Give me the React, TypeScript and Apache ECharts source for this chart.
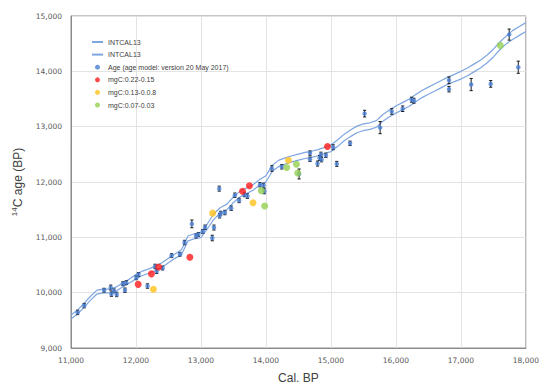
import React, { useEffect, useRef } from "react";
import * as echarts from "echarts";

// INTCAL13 calibration curve (upper and lower bounds)
const intcalCal = [
  11000, 11100, 11200, 11300, 11400, 11500, 11600, 11700, 11800, 11900,
  12000, 12100, 12200, 12300, 12400, 12500, 12600, 12700, 12800, 12900,
  13000, 13100, 13200, 13300, 13400, 13500, 13600, 13700, 13800, 13900,
  14000, 14100, 14200, 14300, 14400, 14500, 14600, 14700, 14800, 14900,
  15000, 15100, 15200, 15300, 15400, 15500, 15600, 15700, 15800, 15900,
  16000, 16100, 16200, 16300, 16400, 16500, 16600, 16700, 16800, 16900,
  17000, 17100, 17200, 17300, 17400, 17500, 17600, 17700, 17800, 17900, 18000,
];
const intcalUpper = [
  9595, 9685, 9805, 9935, 10045, 10065, 10065, 10105, 10175, 10245,
  10330, 10390, 10430, 10480, 10540, 10620, 10700, 10775, 11025, 11065,
  11085, 11245, 11430, 11540, 11600, 11730, 11830, 11890, 11950, 12040,
  12115, 12305, 12395, 12435, 12475, 12505, 12535, 12555, 12585, 12625,
  12670, 12760, 12860, 12940, 13010, 13050, 13070, 13110, 13220, 13300,
  13375, 13435, 13495, 13575, 13655, 13715, 13775, 13835, 13895, 13945,
  14000, 14060, 14130, 14200, 14290, 14400, 14530, 14640, 14740, 14810, 14880,
];
const intcalLower = [
  9525, 9615, 9735, 9865, 9975, 9995, 9995, 10035, 10105, 10175,
  10250, 10310, 10350, 10400, 10460, 10540, 10620, 10685, 10935, 10975,
  10995, 11155, 11330, 11440, 11500, 11630, 11730, 11790, 11850, 11940,
  12005, 12195, 12285, 12325, 12365, 12395, 12425, 12445, 12475, 12515,
  12550, 12640, 12740, 12820, 12890, 12930, 12950, 12990, 13100, 13180,
  13245, 13305, 13365, 13445, 13525, 13585, 13645, 13705, 13765, 13815,
  13860, 13920, 13990, 14060, 14150, 14260, 14390, 14500, 14580, 14650, 14720,
];

// Age model points (Cal BP, 14C age, error)
const ageCal = [
  11102, 11203, 11509, 11611, 11622, 11662, 11703, 11799, 11830, 11851,
  12004, 12039, 12177, 12294, 12319, 12410, 12548, 12676, 12747, 12860,
  12925, 12960, 13028, 13063, 13174, 13200, 13287, 13303, 13368, 13465,
  13281, 13521, 13587, 13669, 13715, 13908, 13964, 13975, 14091, 14244,
  14510, 14678, 14678, 14794, 14825, 14846, 14855, 14922, 15034, 15090,
  15294, 15518, 15757, 15936, 16104, 16241, 16277, 16817, 16817, 17158,
  17459, 17743, 17883,
];
const ageC14 = [
  9643, 9766, 10044, 10092, 9974, 10032, 9968, 10163, 10044, 10181,
  10269, 10328, 10120, 10474, 10386, 10446, 10669, 10694, 10906, 11243,
  11023, 11053, 11106, 11182, 10988, 11177, 11390, 11437, 11448, 11526,
  11880, 11761, 11667, 11774, 11744, 11951, 11938, 11832, 12244, 12275,
  12145, 12522, 12411, 12333, 12434, 12499, 12404, 12482, 12628, 12328,
  12699, 13236, 12983, 13275, 13324, 13487, 13469, 13838, 13678, 13761,
  13773, 14664, 14074,
];
const ageErr = [
  40, 40, 35, 45, 40, 35, 40, 35, 40, 35,
  35, 35, 40, 40, 40, 35, 35, 35, 40, 70,
  35, 35, 35, 40, 50, 45, 40, 35, 40, 40,
  45, 40, 40, 40, 40, 40, 40, 45, 50, 40,
  90, 40, 40, 45, 45, 40, 40, 40, 45, 45,
  40, 60, 110, 50, 50, 45, 45, 60, 50, 110,
  60, 100, 110,
];

const redCal = [12034, 12238, 12349, 12829, 13639, 13746, 14947];
const redC14 = [10150, 10340, 10464, 10641, 11832, 11933, 12641];
const yellowCal = [12268, 13180, 13801, 14346];
const yellowC14 = [10062, 11437, 11625, 12393];
const greenCal = [13929, 13980, 14320, 14469, 14489, 17606];
const greenC14 = [11844, 11567, 12262, 12322, 12163, 14469];

const zip = (a: number[], b: number[]) => a.map((v, i) => [v, b[i]]);

export default function App() {
  const ref = useRef<HTMLDivElement>(null);
  useEffect(() => {
    if (!ref.current) return;
    const chart = echarts.init(ref.current, null, { renderer: "svg" });
    const lineColor = "#7ea6e0";
    const axisFont = "DejaVu Sans";
    chart.setOption({
      animation: false,
      backgroundColor: "#ffffff",
      grid: {
        left: 71,
        right: 13,
        top: 16,
        bottom: 34,
        show: true,
        borderColor: "#8c8c8c",
        borderWidth: 1,
      },
      legend: {
        orient: "vertical",
        left: 91,
        top: 38.5,
        padding: 0,
        itemGap: 5.6,
        itemWidth: 11,
        itemHeight: 5,
        textStyle: { fontFamily: "Liberation Sans", fontSize: 7, color: "#404040" },
        formatter: (n: string) => n.trim(),
        data: [
          { name: "INTCAL13", itemStyle: { opacity: 0 } },
          { name: "INTCAL13 ", itemStyle: { opacity: 0 } },
          { name: "Age (age model: version 20 May 2017)", icon: "circle" },
          { name: "mgC:0.22-0.15", icon: "circle" },
          { name: "mgC:0.13-0.0.8", icon: "circle" },
          { name: "mgC:0.07-0.03", icon: "circle" },
        ],
      },
      xAxis: {
        type: "value",
        min: 11000,
        max: 18000,
        interval: 1000,
        name: "Cal. BP",
        nameLocation: "middle",
        nameGap: 24,
        nameTextStyle: { fontFamily: "Liberation Sans", fontSize: 12, color: "#404040" },
        axisLine: { show: true, lineStyle: { color: "#8c8c8c" } },
        axisTick: { show: false },
        axisLabel: {
          fontFamily: axisFont,
          fontSize: 7.5,
          color: "#595959",
          margin: 8,
          formatter: (v: number) => v.toLocaleString("en-US"),
        },
        splitLine: { show: true, lineStyle: { color: "#e3e3e3" } },
      },
      yAxis: {
        type: "value",
        min: 9000,
        max: 15000,
        interval: 1000,
        name: "{sup|14}{main|C age (BP)}",
        nameLocation: "middle",
        nameGap: 45,
        nameRotate: 90,
        nameTextStyle: {
          fontFamily: "Liberation Sans",
          color: "#404040",
          rich: {
            sup: { fontSize: 8, fontFamily: "Liberation Sans", color: "#404040", verticalAlign: "top", lineHeight: 14, padding: [0, 0, 6, 0] },
            main: { fontSize: 12, fontFamily: "Liberation Sans", color: "#404040", lineHeight: 14 },
          },
        },
        axisLine: { show: true, lineStyle: { color: "#8c8c8c" } },
        axisTick: { show: false },
        axisLabel: {
          fontFamily: axisFont,
          fontSize: 7.5,
          color: "#595959",
          margin: 9,
          formatter: (v: number) => v.toLocaleString("en-US"),
        },
        splitLine: { show: true, lineStyle: { color: "#e3e3e3" } },
      },
      series: [
        {
          name: "INTCAL13",
          type: "line",
          data: zip(intcalCal, intcalUpper),
          showSymbol: false,
          symbol: "none",
          lineStyle: { color: lineColor, width: 1.2 },
          itemStyle: { color: lineColor },
          z: 1,
        },
        {
          name: "INTCAL13 ",
          type: "line",
          data: zip(intcalCal, intcalLower),
          showSymbol: false,
          symbol: "none",
          lineStyle: { color: lineColor, width: 1.2 },
          itemStyle: { color: lineColor },
          z: 1,
        },
        {
          name: "errbars",
          type: "custom",
          data: ageCal.map((c, i) => [c, ageC14[i], ageErr[i]]),
          encode: { x: 0, y: 1 },
          z: 3,
          renderItem: (params: any, api: any) => {
            const x = api.value(0);
            const y = api.value(1);
            const e = api.value(2);
            const t = api.coord([x, y + e]);
            const b = api.coord([x, y - e]);
            const w = 1.6;
            const st = { stroke: "#1a1a1a", lineWidth: 1 };
            return {
              type: "group",
              children: [
                { type: "line", shape: { x1: t[0], y1: t[1], x2: b[0], y2: b[1] }, style: st },
                { type: "line", shape: { x1: t[0] - w, y1: t[1], x2: t[0] + w, y2: t[1] }, style: st },
                { type: "line", shape: { x1: b[0] - w, y1: b[1], x2: b[0] + w, y2: b[1] }, style: st },
              ],
            };
          },
        },
        {
          name: "Age (age model: version 20 May 2017)",
          type: "scatter",
          data: zip(ageCal, ageC14),
          symbolSize: 4.5,
          itemStyle: { color: "#4a80d4" },
          z: 4,
        },
        {
          name: "mgC:0.22-0.15",
          type: "scatter",
          data: zip(redCal, redC14),
          symbolSize: 7,
          itemStyle: { color: "#ff1a1a" },
          z: 5,
        },
        {
          name: "mgC:0.13-0.0.8",
          type: "scatter",
          data: zip(yellowCal, yellowC14),
          symbolSize: 7,
          itemStyle: { color: "#ffc21a" },
          z: 5,
        },
        {
          name: "mgC:0.07-0.03",
          type: "scatter",
          data: zip(greenCal, greenC14),
          symbolSize: 7,
          itemStyle: { color: "#92d050" },
          z: 5,
        },
      ],
    });
    return () => chart.dispose();
  }, []);
  return (
    <div
      ref={ref}
      style={{ position: "absolute", left: 0, top: 0, width: 542, height: 389 }}
    />
  );
}
